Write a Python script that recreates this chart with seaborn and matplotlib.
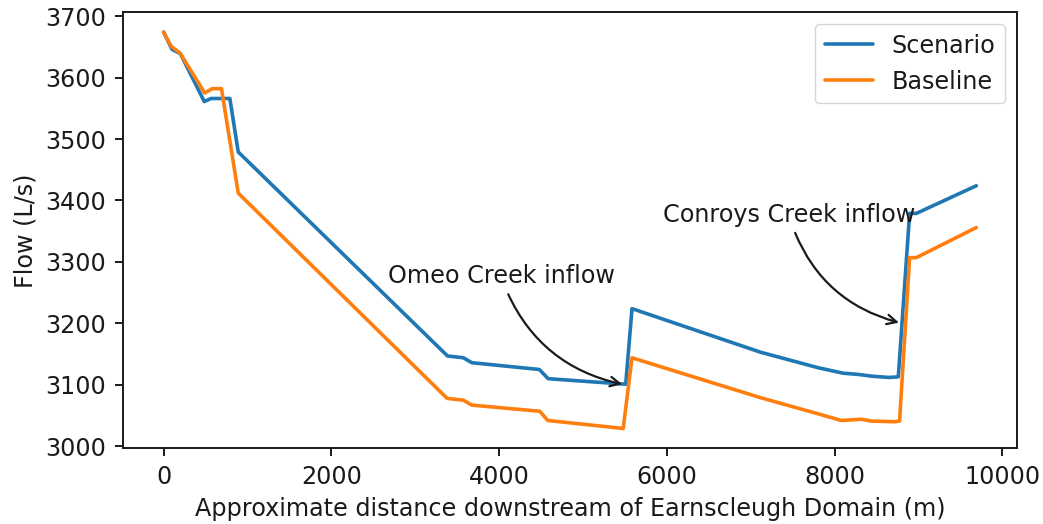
import matplotlib
matplotlib.use("Agg")
import matplotlib.pyplot as plt
import seaborn as sns
import pandas as pd

# Data
scenario_x = [0, 100, 200, 485, 565, 700, 790, 890, 3385, 3575, 3675, 4480, 4585,
              5510, 5585, 7120, 7800, 8100, 8280, 8450, 8650, 8760, 8895, 8975, 9690]
scenario_flow = [3674, 3646, 3639, 3561, 3566, 3566, 3566, 3479, 3147, 3144, 3136, 3125, 3110,
                 3101, 3224, 3153, 3128, 3119, 3117, 3114, 3112, 3113, 3379, 3379, 3424]

baseline_x = [0, 90, 195, 490, 580, 690, 890, 3380, 3575, 3675, 4485, 4580,
              5480, 5585, 7120, 7800, 8080, 8320, 8440, 8715, 8775, 8895, 8975, 9690]
baseline_flow = [3674, 3651, 3640, 3575, 3582, 3582, 3412, 3078, 3075, 3067, 3057, 3042,
                 3029, 3144, 3079, 3053, 3042, 3044, 3041, 3040, 3041, 3307, 3307, 3356]

series_names = ["Scenario", "Baseline"]
colors = ["#1f77b4", "#ff7f0e"]
x_ticks = [0, 2000, 4000, 6000, 8000, 10000]
y_ticks = [3000, 3100, 3200, 3300, 3400, 3500, 3600, 3700]

df = pd.concat([
    pd.DataFrame({"distance": scenario_x, "flow": scenario_flow, "series": series_names[0]}),
    pd.DataFrame({"distance": baseline_x, "flow": baseline_flow, "series": series_names[1]}),
], ignore_index=True)

sns.set_style("ticks")
plt.rcParams["font.family"] = ["DejaVu Sans"]
for k in ["text.color", "axes.labelcolor", "xtick.color", "ytick.color"]:
    plt.rcParams[k] = "#1a1a1a"

FS = 17.2
LW = 2.6

fig = plt.figure(figsize=(10.43, 5.24), dpi=100)
ax = fig.add_axes([0.1179, 0.1445, 0.975 - 0.1179, 0.9765 - 0.1445])

sns.lineplot(data=df, x="distance", y="flow", hue="series", hue_order=series_names,
             palette=colors, linewidth=LW, ax=ax, sort=False, estimator=None)

ax.set_xticks(x_ticks)
ax.set_yticks(y_ticks)
ax.tick_params(labelsize=FS, length=6, width=1.4, pad=6)
for s in ax.spines.values():
    s.set_linewidth(1.4)
    s.set_color("#1a1a1a")
ax.set_xlabel("Approximate distance downstream of Earnscleugh Domain (m)", fontsize=FS, labelpad=6)
ax.set_ylabel("Flow (L/s)", fontsize=FS, labelpad=6)

ax.annotate("Omeo Creek inflow", xy=(5500, 3100), xytext=(2670, 3265), fontsize=FS,
            arrowprops=dict(arrowstyle="->", connectionstyle="arc3,rad=0.28", color="#1a1a1a", lw=1.6))
ax.annotate("Conroys Creek inflow", xy=(8800, 3200), xytext=(5950, 3365), fontsize=FS,
            arrowprops=dict(arrowstyle="->", connectionstyle="arc3,rad=0.28", color="#1a1a1a", lw=1.6))

leg = ax.legend(loc="upper right", fontsize=FS, title=None, frameon=True)
for line in leg.get_lines():
    line.set_linewidth(LW)

fig.savefig("out.png", dpi=100)
